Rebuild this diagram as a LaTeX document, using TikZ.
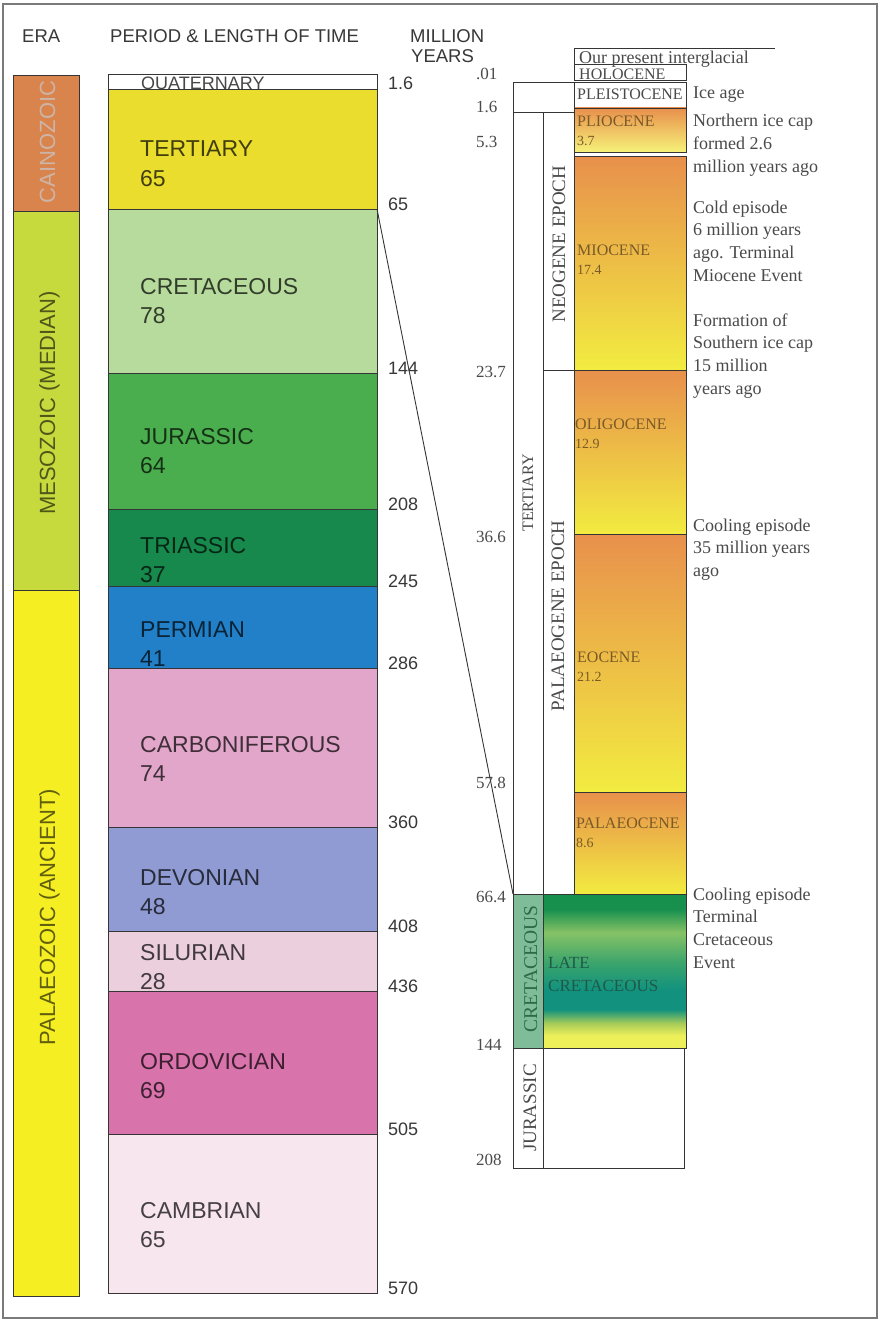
\documentclass[tikz,border=0pt]{standalone}
\usepackage{fontspec}
\setmainfont{Liberation Serif}
\newfontfamily\sansf{Liberation Sans}

% Colours of the late cretaceous band
\definecolor{lcDark}{HTML}{17904E}
\definecolor{lcLight}{HTML}{86C266}
\definecolor{lcGreen}{HTML}{3AA46C}
\definecolor{lcTeal}{HTML}{12927E}
\definecolor{lcLime}{HTML}{A8CC58}
\definecolor{lcYellow}{HTML}{EEF05A}
\pgfdeclareverticalshading{lateCretShade}{100bp}{color(0bp)=(lcYellow); color(29bp)=(lcYellow); color(33bp)=(lcLime); color(37.5bp)=(lcTeal); color(44bp)=(lcTeal); color(52.5bp)=(lcGreen); color(62.5bp)=(lcLight); color(70bp)=(lcDark); color(100bp)=(lcDark)}

\newcommand{\notelines}[1]{\begin{tabular}[t]{@{}l@{}}#1\end{tabular}}

\tikzset{
  chartLine/.style={draw=lineGrey, line width=0.9pt},
  headText/.style={anchor=base west, inner sep=0pt, text=markGrey, font=\sansf\fontsize{18.5}{22}\selectfont},
  eraLabel/.style={rotate=90, anchor=base, inner sep=0pt, font=\sansf\fontsize{22}{26}\selectfont},
  periodName/.style={anchor=base west, inner sep=0pt, text=black, text opacity=0.72, font=\sansf\fontsize{23}{27}\selectfont},
  ageMark/.style={anchor=base west, inner sep=0pt, text=markGrey, font=\sansf\fontsize{18}{22}\selectfont},
  epochAge/.style={anchor=base west, inner sep=0pt, text=serifGrey, font=\fontsize{17}{20}\selectfont},
  epochName/.style={anchor=base west, inner sep=0pt, text=epochInk, font=\fontsize{16}{19}\selectfont},
  epochLen/.style={anchor=base west, inner sep=0pt, text=epochInk, font=\fontsize{14}{17}\selectfont},
  sideLabel/.style={rotate=90, anchor=base, inner sep=0pt, text=serifGrey, font=\fontsize{19}{22}\selectfont},
  noteText/.style={anchor=base west, inner sep=0pt, text=serifGrey, font=\fontsize{18}{22.7}\selectfont},
  epochShade/.style={top color=epochOrange, middle color=epochMid, bottom color=epochYellow},
}

\begin{document}
\begin{tikzpicture}[x=1pt, y=-1pt]
    \definecolor{lineGrey}{HTML}{353535}
    \definecolor{frameGrey}{HTML}{7A7A7A}
    \definecolor{markGrey}{HTML}{383838}
    \definecolor{serifGrey}{HTML}{4A4A4A}
    \definecolor{epochInk}{HTML}{7A5A28}
    \definecolor{cainoCol}{HTML}{D9844C}
    \definecolor{cainoInk}{HTML}{CDB4A6}
    \definecolor{mesoCol}{HTML}{C6DA3E}
    \definecolor{palaeoCol}{HTML}{F4EE22}
    \definecolor{tertCol}{HTML}{EADD2E}
    \definecolor{cretCol}{HTML}{B6DB9C}
    \definecolor{jurCol}{HTML}{4BAE4E}
    \definecolor{triCol}{HTML}{17894C}
    \definecolor{permCol}{HTML}{2280C8}
    \definecolor{carbCol}{HTML}{E2A6CA}
    \definecolor{devCol}{HTML}{8F9BD2}
    \definecolor{silCol}{HTML}{EBCFDD}
    \definecolor{ordCol}{HTML}{D973AC}
    \definecolor{cambCol}{HTML}{F8E6EE}
    \definecolor{epochOrange}{HTML}{E8904C}
    \definecolor{epochMid}{HTML}{F0BE4C}
    \definecolor{epochYellow}{HTML}{F2EC40}
    \definecolor{cretSide}{HTML}{7FBC98}
    \definecolor{cretInk}{HTML}{2D6A48}
    \definecolor{lateInk}{HTML}{1E5A4A}

    \useasboundingbox (0,0) rectangle (883,1327);
    \fill[white] (0,0) rectangle (883,1327);

    % Frame
    \draw[frameGrey, line width=1.3pt] (3,4) rectangle (877,1318);

    % Headings
    \node[headText] (hEra) at (22,43) {ERA};
    \node[headText] (hPeriod) at (110,43) {PERIOD \& LENGTH OF TIME};
    \node[headText] (hMillion) at (410,43) {MILLION};
    \node[headText] (hYears) at (411,63) {YEARS};

    % Era column
    \filldraw[chartLine, fill=cainoCol] (13,75) rectangle (79,211);
    \filldraw[chartLine, fill=mesoCol] (13,211) rectangle (79,590);
    \filldraw[chartLine, fill=palaeoCol] (13,590) rectangle (79,1296);
    \node[eraLabel, text=cainoInk] (eCaino) at (55,142) {CAINOZOIC};
    \node[eraLabel, text=black, text opacity=0.6] (eMeso) at (55,403) {MESOZOIC (MEDIAN)};
    \node[eraLabel, text=black, text opacity=0.6] (ePalaeo) at (55,917) {PALAEOZOIC (ANCIENT)};

    % Period column
    \fill[white] (108,74) rectangle (377,89);
    \node[periodName, font=\sansf\fontsize{18}{21}\selectfont] (pQuat) at (141,90) {QUATERNARY};
    \draw[chartLine] (108,74) rectangle (377,89);
    \foreach \yTop/\yBot/\fillCol/\pName/\pLen/\yName [count=\k] in {
        89/209/tertCol/TERTIARY/65/157,
        209/373/cretCol/CRETACEOUS/78/294,
        373/509/jurCol/JURASSIC/64/444,
        509/586/triCol/TRIASSIC/37/553,
        586/668/permCol/PERMIAN/41/637,
        668/827/carbCol/CARBONIFEROUS/74/752,
        827/931/devCol/DEVONIAN/48/885,
        931/991/silCol/SILURIAN/28/960,
        991/1134/ordCol/ORDOVICIAN/69/1069,
        1134/1293/cambCol/CAMBRIAN/65/1218}
    {
        \filldraw[chartLine, fill=\fillCol] (108,\yTop) rectangle (377,\yBot);
        \node[periodName] (pn\k) at (140,\yName) {\pName};
        \node[periodName] (pl\k) at (140,\yName+29) {\pLen};
    }

    % Ages beside the period column
    \foreach \yMark/\mText [count=\k] in {89/1.6, 209/65, 373/144, 509/208, 586/245,
        668/286, 827/360, 931/408, 991/436, 1134/505, 1293/570}
        \node[ageMark] (am\k) at (388,\yMark+1) {\mText};

    % Ages beside the detail column
    \foreach \yMark/\mText [count=\k] in {80/.01, 113/1.6, 147/5.3, 377/23.7, 542/36.6,
        788/57.8, 902/66.4, 1050/144, 1165/208}
        \node[epochAge] (ea\k) at (476,\yMark) {\mText};

    % Epoch colour bands
    \shade[top color=epochOrange, bottom color=epochYellow!70!white] (574,108) rectangle (686,152);
    \shade[epochShade] (574,156) rectangle (686,370);
    \shade[epochShade] (574,370) rectangle (686,534);
    \shade[epochShade] (574,534) rectangle (686,792);
    \shade[epochShade] (574,792) rectangle (686,894);
    \shade[shading=lateCretShade] (543,894) rectangle (686,1048);
    \fill[cretSide] (513,894) rectangle (543,1048);

    % Detail column outlines
    \draw[chartLine] (574,48) -- (775,48);
    \draw[chartLine] (574,48) -- (574,64);
    \draw[chartLine] (574,64) rectangle (686,80);
    \draw[chartLine] (574,82) rectangle (686,108);
    \draw[chartLine] (513,82) rectangle (574,112);
    \foreach \yTop/\yBot in {108/152, 156/370, 370/534, 534/792, 792/894}
        \draw[chartLine] (574,\yTop) rectangle (686,\yBot);
    \draw[chartLine] (513,112) rectangle (543,894);
    \draw[chartLine] (543,112) rectangle (574,370);
    \draw[chartLine] (543,370) rectangle (574,894);
    \draw[chartLine] (513,894) rectangle (543,1048);
    \draw[chartLine] (543,894) rectangle (686,1048);
    \draw[chartLine] (513,1048) rectangle (543,1168);
    \draw[chartLine] (543,1048) rectangle (684,1168);

    % Link between the two scales
    \coordinate (base65) at (377,209);
    \coordinate (base664) at (513,894);
    \draw[chartLine] (base65) -- (base664);

    % Epoch names
    \node[epochName, text=serifGrey] (hol) at (579,80) {HOLOCENE};
    \node[epochName, text=serifGrey] (ple) at (577,100) {PLEISTOCENE};
    \foreach \yName/\eName/\eLen/\xName [count=\k] in {
        127/PLIOCENE/3.7/577, 255/MIOCENE/17.4/577, 429/OLIGOCENE/12.9/575,
        662/EOCENE/21.2/577, 828/PALAEOCENE/8.6/576}
    {
        \node[epochName] (en\k) at (\xName,\yName) {\eName};
        \node[epochLen] (el\k) at (\xName,\yName+19) {\eLen};
    }
    \node[epochName, text=lateInk, font=\fontsize{17}{20}\selectfont] (late) at (548,968) {LATE};
    \node[epochName, text=lateInk, font=\fontsize{17}{20}\selectfont] (lateCret) at (548,991) {CRETACEOUS};

    % Rotated side labels
    \node[sideLabel, font=\fontsize{16}{19}\selectfont] (sTert) at (533,493) {TERTIARY};
    \node[sideLabel] (sNeo) at (565,244) {NEOGENE EPOCH};
    \node[sideLabel] (sPal) at (564,616) {PALAEOGENE EPOCH};
    \node[sideLabel, text=cretInk, font=\fontsize{19.5}{22}\selectfont] (sCret) at (537,969) {CRETACEOUS};
    \node[sideLabel] (sJur) at (536,1108) {JURASSIC};

    % Notes
    \node[noteText] (nInter) at (579,64) {Our present interglacial};
    \node[noteText] (nIce) at (693,99) {Ice age};
    \node[noteText] (nNorth) at (693,127) {\notelines{Northern ice cap\\formed 2.6\\million years ago}};
    \node[noteText] (nCold) at (693,213) {\notelines{Cold episode\\6 million years\\ago. Terminal\\Miocene Event}};
    \node[noteText] (nSouth) at (693,326) {\notelines{Formation of\\Southern ice cap\\15 million\\years ago}};
    \node[noteText] (nCool) at (693,531) {\notelines{Cooling episode\\35 million years\\ago}};
    \node[noteText] (nTerm) at (693,900) {\notelines{Cooling episode\\Terminal\\Cretaceous\\Event}};

\end{tikzpicture}
\end{document}
